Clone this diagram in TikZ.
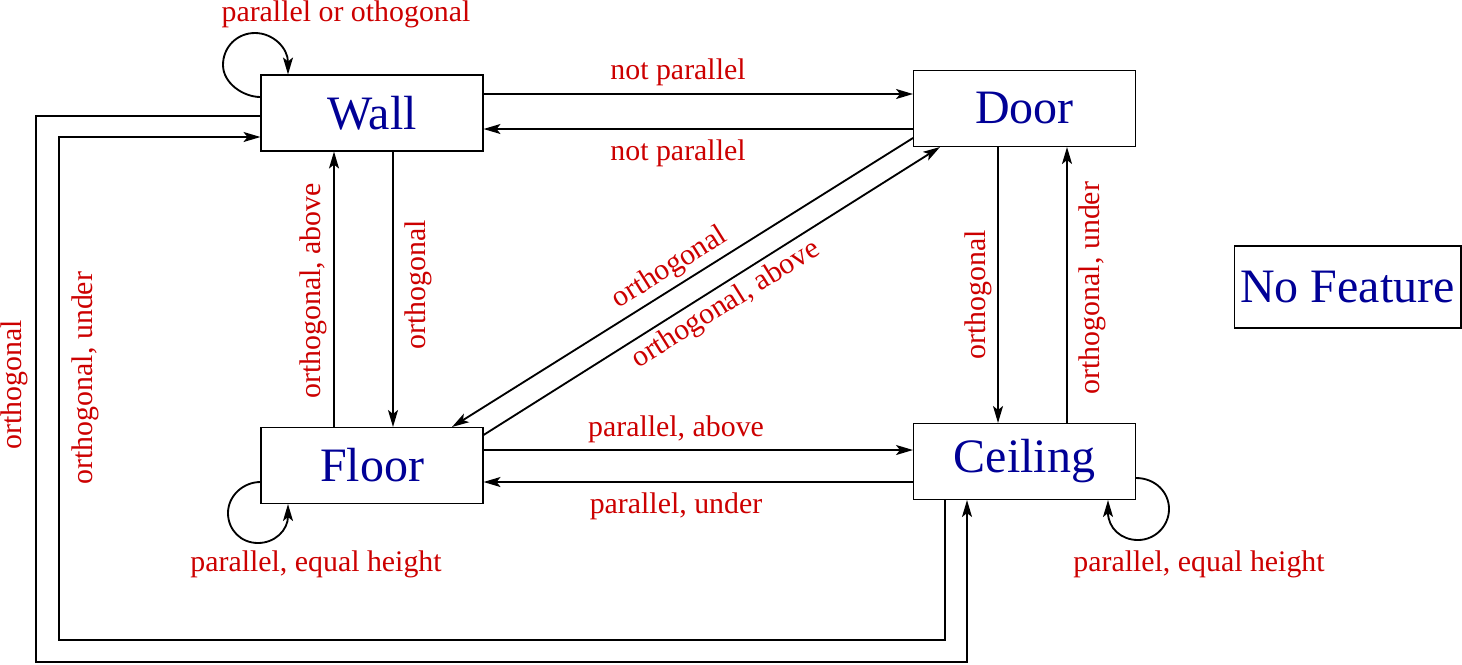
\documentclass[tikz,border=0pt]{standalone}
\usepackage{fontspec}
\setmainfont{Liberation Serif}
\usetikzlibrary{arrows.meta}
\definecolor{statblue}{RGB}{0,0,150}
\definecolor{lblred}{RGB}{204,0,0}
\tikzset{
	state/.style={draw, line width=0.6pt, minimum width=4.44cm, minimum height=1.52cm, inner sep=0pt, text=statblue, font=\fontsize{27.3}{30}\selectfont},
	arr/.style={line width=1.05pt, -{Stealth[length=0.34cm, width=0.2cm, inset=0.08cm]}},
	lbl/.style={text=lblred, inner sep=0pt, font=\fontsize{17}{19}\selectfont}
}

\begin{document}
\begin{tikzpicture}[x=0.02cm, y=-0.02cm]
			%%%%% START %%%%%
			\useasboundingbox (0,0) rectangle (1462,664);
			
			\node[state] (wall) at (372,113) {Wall};
			\node[state] (door) at (1024.5,108.5) {Door};
			\node[state] (floor) at (372,465.5) {Floor};
			\node[state] (ceiling) at (1024.5,461.5) {Ceiling};
			\node[state, minimum width=4.54cm, minimum height=1.64cm] (nofeat) at (1347.5,287) {No Feature};
			
			\draw[arr] (wall.east |- 0,94) -- (door.west |- 0,94);
			\draw[arr] (door.west |- 0,129) -- (wall.east |- 0,129);
			\node[lbl] (npA) at (678,72) {not parallel};
			\node[lbl] (npB) at (678,153) {not parallel};
			
			\draw[arr] (floor.east |- 0,450) -- (ceiling.west |- 0,450);
			\draw[arr] (ceiling.west |- 0,482) -- (floor.east |- 0,482);
			\node[lbl] (paA) at (676,429) {parallel, above};
			\node[lbl] (puA) at (676,506) {parallel, under};
			
			\draw[arr] (wall.south -| 393,0) -- (floor.north -| 393,0);
			\draw[arr] (floor.north -| 334,0) -- (wall.south -| 334,0);
			\node[lbl, rotate=90] (oWF) at (418,285) {orthogonal};
			\node[lbl, rotate=90] (oaFW) at (313,291) {orthogonal, above};
			
			\draw[arr] (door.south -| 998,0) -- (ceiling.north -| 998,0);
			\draw[arr] (ceiling.north -| 1067,0) -- (door.south -| 1067,0);
			\node[lbl, rotate=90] (oDC) at (978,295) {orthogonal};
			\node[lbl, rotate=90] (ouCD) at (1092,288) {orthogonal, under};
			
			% diagonal pair
			\draw[arr] (door.west |- 0,138) -- (floor.north -| 452,0);
			\draw[arr] (floor.east |- 0,435) -- (door.south -| 940,0);
			\node[lbl, rotate=32] (oDF) at (670,268) {orthogonal};
			\node[lbl, rotate=32] (oaFD) at (726,305) {orthogonal, above};
			
			% self loops
			\draw[arr] (wall.west |- 0,97) .. controls (243,97) and (223,83) .. (223,65)
				.. controls (223,47) and (237,33) .. (255,33)
				.. controls (273,33) and (288,48) .. (wall.north -| 288,0);
			\node[lbl] (poW) at (346,14) {parallel or othogonal};
			\draw[arr] (floor.west |- 0,482) .. controls (243,482) and (228,496) .. (228,513)
				.. controls (228,530) and (241,543) .. (258,543)
				.. controls (275,543) and (288,530) .. (floor.south -| 288,0);
			\node[lbl] (peF) at (316,564) {parallel, equal height};
			\draw[arr] (ceiling.east |- 0,478) .. controls (1155,478) and (1169,492) .. (1169,509)
				.. controls (1169,526) and (1155,540) .. (1138,540)
				.. controls (1121,540) and (1108,528) .. (ceiling.south -| 1108,0);
			\node[lbl] (peC) at (1199,564) {parallel, equal height};
			
			% long way round
			\draw[arr] (wall.west |- 0,116) -| (36,662) -| (ceiling.south -| 967,0);
			\draw[arr] (ceiling.south -| 945,0) |- (59,640) |- (wall.west |- 0,137);
			\node[lbl, rotate=90] (oWC) at (14,385) {orthogonal};
			\node[lbl, rotate=90] (ouCW) at (85,378) {orthogonal, under};
			
			%%%%% END %%%%%
		\end{tikzpicture}
\end{document}
